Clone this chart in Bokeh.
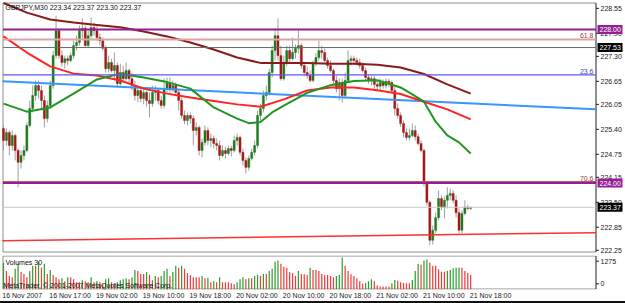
from bokeh.plotting import figure
from bokeh.models import Range1d, FixedTicker, Label, ColumnDataSource, Div
from bokeh.layouts import column
from bokeh.embed import file_html
from bokeh.resources import INLINE
from bokeh.core.properties import value

# ---------------- data ----------------
symbol = "GBPJPY,M30"
header_quote = ["223.34", "223.37", "223.30", "223.37"]

opens = [225.42, 225.11, 225.32, 224.98, 225.24, 224.85, 224.54, 224.72, 224.85, 225.50,
         225.94, 226.28, 226.54, 226.41, 226.15, 225.68, 226.02, 226.54, 227.32, 227.97,
         227.32, 227.14, 227.24, 227.19, 227.32, 227.58, 227.66, 227.97, 228.03, 227.58,
         227.84, 228.05, 227.97, 227.79, 227.71, 227.51, 226.98, 227.14, 226.93, 227.06,
         226.59, 226.88, 226.72, 226.93, 226.72, 226.54, 226.28, 226.41, 226.20, 226.36,
         226.15, 226.07, 226.36, 226.41, 226.15, 226.02, 226.46, 226.62, 226.46, 226.54,
         226.36, 226.15, 225.76, 225.63, 225.76, 225.68, 225.37, 225.45, 224.85, 225.06,
         225.37, 225.11, 225.16, 225.03, 224.98, 224.72, 224.85, 224.77, 224.90, 224.85,
         225.11, 225.19, 224.80, 224.59, 224.41, 224.64, 224.80, 224.98, 225.76, 225.94,
         226.28, 226.36, 226.88, 227.45, 227.84, 227.32, 226.72, 227.14, 227.45, 227.24,
         227.40, 227.51, 227.58, 227.06, 226.88, 226.80, 226.67, 227.11, 227.27, 227.45,
         227.40, 227.19, 227.06, 226.93, 226.67, 226.46, 226.62, 226.28, 226.67, 227.19,
         227.24, 227.19, 227.14, 227.06, 226.93, 226.75, 226.67, 226.72, 226.57, 226.52,
         226.62, 226.54, 226.65, 226.62, 226.41, 225.94, 225.76, 225.55, 225.32, 225.19,
         225.24, 225.37, 225.21, 225.03, 224.85, 223.99, 223.50, 222.51, 222.77, 223.10,
         223.60, 223.37, 223.55, 223.68, 223.73, 223.55, 223.23, 222.77, 223.21, 223.37,
         223.34]
highs = [225.50, 225.42, 225.37, 225.37, 225.29, 224.90, 224.85, 224.98, 225.58, 226.15,
         226.54, 226.67, 226.67, 226.54, 226.28, 226.15, 226.67, 227.45, 228.36, 228.03,
         227.45, 227.32, 227.32, 227.40, 227.71, 227.84, 228.10, 228.29, 228.10, 227.97,
         228.31, 228.18, 228.10, 227.90, 227.79, 227.58, 227.32, 227.24, 227.40, 227.14,
         227.11, 227.06, 227.14, 226.98, 226.88, 226.67, 226.54, 226.52, 226.46, 226.41,
         226.36, 226.54, 226.54, 226.46, 226.28, 226.72, 226.75, 226.75, 226.67, 226.62,
         226.46, 226.23, 225.89, 225.84, 225.84, 225.76, 225.58, 225.50, 225.16, 225.50,
         225.45, 225.29, 225.24, 225.16, 225.11, 224.98, 224.95, 224.98, 224.98, 225.24,
         225.29, 225.24, 224.90, 224.67, 224.72, 224.90, 225.11, 225.89, 226.07, 226.41,
         226.54, 226.98, 227.58, 228.03, 228.29, 227.58, 227.32, 227.58, 227.58, 227.79,
         227.61, 227.97, 227.64, 227.14, 227.04, 226.93, 227.19, 227.38, 227.71, 227.58,
         227.51, 227.27, 227.19, 226.98, 226.80, 226.72, 226.72, 226.88, 227.45, 227.32,
         227.32, 227.27, 227.24, 227.14, 227.01, 226.83, 226.80, 226.80, 226.67, 226.72,
         226.70, 226.72, 226.72, 226.67, 226.52, 226.07, 225.84, 225.63, 225.42, 225.42,
         225.55, 225.50, 225.29, 225.11, 224.90, 224.04, 223.55, 222.90, 223.23, 223.81,
         223.68, 223.65, 223.89, 223.86, 223.81, 223.68, 223.34, 223.29, 223.55, 223.44,
         223.37]
lows = [224.85, 224.98, 224.72, 224.85, 224.59, 223.89, 224.38, 224.59, 224.80, 225.45,
        225.84, 226.15, 226.20, 225.89, 225.45, 225.58, 225.94, 226.46, 227.24, 227.24,
        227.04, 226.98, 227.06, 227.14, 227.24, 227.45, 227.58, 227.77, 227.53, 227.53,
        227.77, 227.84, 227.71, 227.58, 227.45, 226.88, 226.88, 226.88, 226.67, 226.52,
        226.54, 226.62, 226.67, 226.62, 226.41, 226.15, 226.10, 226.10, 226.05, 225.99,
        225.71, 225.99, 226.15, 226.05, 225.94, 225.94, 226.36, 226.36, 226.36, 226.26,
        225.89, 225.68, 225.53, 225.50, 225.55, 224.98, 225.24, 224.72, 224.67, 224.98,
        224.98, 224.93, 224.90, 224.85, 224.59, 224.67, 224.64, 224.72, 224.69, 224.80,
        224.98, 224.72, 224.46, 224.25, 224.33, 224.59, 224.72, 224.90, 225.63, 225.84,
        226.15, 226.28, 226.75, 227.19, 227.19, 226.67, 226.67, 227.04, 227.14, 227.19,
        227.24, 227.38, 226.98, 226.78, 226.72, 226.62, 226.62, 227.04, 227.19, 227.24,
        227.14, 226.98, 226.88, 226.54, 226.36, 226.15, 226.10, 226.20, 226.62, 227.06,
        227.11, 227.06, 226.98, 226.88, 226.67, 226.59, 226.54, 226.46, 226.41, 226.41,
        226.46, 226.46, 226.49, 226.36, 225.76, 225.68, 225.47, 225.19, 225.11, 225.11,
        225.19, 225.11, 224.98, 224.80, 223.91, 223.42, 222.38, 222.40, 222.69, 223.03,
        223.29, 223.08, 223.34, 223.55, 223.47, 223.10, 222.69, 222.69, 223.16, 223.29,
        223.30]
closes = [225.11, 225.32, 224.98, 225.24, 224.85, 224.54, 224.72, 224.85, 225.50, 225.94,
          226.28, 226.54, 226.41, 226.15, 225.68, 226.02, 226.54, 227.32, 227.97, 227.32,
          227.14, 227.24, 227.19, 227.32, 227.58, 227.66, 227.97, 228.03, 227.58, 227.84,
          228.05, 227.97, 227.79, 227.71, 227.51, 226.98, 227.14, 226.93, 227.06, 226.59,
          226.88, 226.72, 226.93, 226.72, 226.54, 226.28, 226.41, 226.20, 226.36, 226.15,
          226.07, 226.36, 226.41, 226.15, 226.02, 226.46, 226.62, 226.46, 226.54, 226.36,
          226.15, 225.76, 225.63, 225.76, 225.68, 225.37, 225.45, 224.85, 225.06, 225.37,
          225.11, 225.16, 225.03, 224.98, 224.72, 224.85, 224.77, 224.90, 224.85, 225.11,
          225.19, 224.80, 224.59, 224.41, 224.64, 224.80, 224.98, 225.76, 225.94, 226.28,
          226.36, 226.88, 227.45, 227.84, 227.32, 226.72, 227.14, 227.45, 227.24, 227.40,
          227.51, 227.58, 227.06, 226.88, 226.80, 226.67, 227.11, 227.27, 227.45, 227.40,
          227.19, 227.06, 226.93, 226.67, 226.46, 226.62, 226.28, 226.67, 227.19, 227.24,
          227.19, 227.14, 227.06, 226.93, 226.75, 226.67, 226.72, 226.57, 226.52, 226.62,
          226.54, 226.65, 226.62, 226.41, 225.94, 225.76, 225.55, 225.32, 225.19, 225.24,
          225.37, 225.21, 225.03, 224.85, 223.99, 223.50, 222.51, 222.77, 223.10, 223.60,
          223.37, 223.55, 223.68, 223.73, 223.55, 223.23, 222.77, 223.21, 223.37, 223.34,
          223.37]
volumes = [1069, 740, 534, 493, 822, 1028, 699, 617, 493, 740,
           945, 945, 1110, 863, 1028, 617, 781, 575, 493, 411,
           452, 329, 493, 493, 411, 288, 288, 370, 329, 288,
           493, 288, 329, 288, 206, 411, 452, 288, 247, 288,
           370, 411, 452, 411, 493, 781, 740, 617, 617, 699,
           575, 370, 534, 493, 534, 740, 822, 534, 699, 945,
           863, 945, 822, 658, 575, 493, 493, 493, 534, 452,
           473, 288, 329, 288, 493, 288, 288, 288, 247, 206,
           288, 411, 493, 411, 452, 452, 534, 575, 534, 617,
           617, 740, 822, 1110, 1151, 1028, 904, 863, 699, 658,
           534, 740, 617, 604, 575, 863, 781, 781, 740, 617,
           575, 575, 534, 493, 534, 575, 1275, 945, 740, 604,
           534, 452, 329, 226, 259, 329, 411, 329, 164, 123,
           123, 123, 123, 247, 382, 349, 288, 259, 247, 247,
           382, 740, 1015, 986, 1151, 1192, 1081, 945, 945, 810,
           711, 711, 740, 781, 843, 863, 875, 863, 740, 670,
           575]

time_label_bars = [0, 16, 32, 48, 64, 80, 96, 112, 128, 144, 160]
time_labels = ["16 Nov 2007", "16 Nov 17:00", "19 Nov 02:00", "19 Nov 10:00", "19 Nov 18:00",
               "20 Nov 02:00", "20 Nov 10:00", "20 Nov 18:00", "21 Nov 02:00", "21 Nov 10:00",
               "21 Nov 18:00"]

ma_bars = [0, 8, 16, 24, 32, 40, 48, 56, 64, 72, 80, 88, 96, 104, 112, 120, 128, 136, 144, 152, 160]
ma_slow = [228.69, 228.44, 228.26, 228.18, 228.12, 228.06, 227.95, 227.82, 227.66, 227.48,
           227.27, 227.13, 227.13, 227.13, 227.11, 227.11, 227.08, 227.01, 226.84, 226.57, 226.33]
ma_mid = [227.82, 227.40, 227.04, 226.85, 226.80, 226.67, 226.46, 226.33, 226.23, 226.14,
          226.05, 225.99, 226.18, 226.41, 226.49, 226.49, 226.42, 226.32, 226.12, 225.92, 225.66]
ma_fast_bars = [0, 8, 16, 24, 32, 40, 48, 56, 64, 72, 80, 84, 88, 92, 96, 104, 112, 120, 128,
                136, 140, 144, 148, 152, 156, 160]
ma_fast = [226.07, 225.86, 225.97, 226.33, 226.70, 226.85, 226.75, 226.63, 226.46, 225.97,
           225.68, 225.56, 225.59, 225.84, 226.02, 226.35, 226.55, 226.66, 226.68, 226.49,
           226.31, 226.12, 225.60, 225.24, 225.06, 224.77]

trend_bars = [-0.34, 202.91]
trend_blue = [226.65, 225.92]
trend_red = [222.50, 222.71]

level_purple = [228.00, 224.00]
level_fib618 = 227.74
level_fib236 = 226.82
level_fib706 = 224.04
level_gray = 227.53
bid_price = 223.37

price_ticks = [228.55, 227.90, 227.30, 226.65, 226.05, 225.40, 224.75, 224.15, 223.50, 222.85, 222.25]
price_tick_labels = ["228.55", "227.90", "227.30", "226.65", "226.05", "225.40", "224.75",
                     "224.15", "223.50", "222.85", "222.25"]
volume_tick_labels = ["1275", "0"]

# ---------------- geometry helpers (styling only) ----------------
BAR_PX = 2.92          # pixels per bar
X0_PX = 3.0            # pixel column of bar 0
PRICE_PX = 38.4        # pixels per yen
P_AT_Y0 = 228.755      # price at page row 0


def bx(px):
    return (px - X0_PX) / BAR_PX


def py(row):
    return P_AT_Y0 - row / PRICE_PX


FONT = "Liberation Sans"
FS = "7px"
AX = "#202020"
BORDER = "#8c8c8c"
n = len(closes)
idx = list(range(n))
bull = "#1d7a1d"
bear = "#a31818"

xr = Range1d(bx(1), bx(625))
x_left, x_axis = bx(2.5), bx(595.5)

# ---------------- main price panel ----------------
p = figure(frame_width=624, frame_height=252, x_range=xr, y_range=Range1d(py(253), py(1)),
           output_backend="svg", toolbar_location=None, x_axis_location=None,
           y_axis_location=None, min_border_left=1, min_border_right=0,
           min_border_top=1, min_border_bottom=1)
p.grid.visible = False
p.outline_line_color = None
p.background_fill_color = "white"
p.border_fill_color = "white"

# frame border + axis line
p.segment(x0=[x_left, x_left, x_left, x_axis], y0=[py(2.5), py(251.5), py(2.5), py(2.5)],
          x1=[x_axis, x_axis, x_left, x_axis], y1=[py(2.5), py(251.5), py(251.5), py(251.5)],
          line_color=[BORDER, BORDER, BORDER, AX], line_width=1)

# candles
src = ColumnDataSource(dict(
    i=idx, o=opens, h=highs, l=lows, c=closes,
    top=[max(a, b) for a, b in zip(opens, closes)],
    bot=[min(a, b) for a, b in zip(opens, closes)],
    col=[bull if c >= o else bear for o, c in zip(opens, closes)],
))
p.segment(x0="i", y0="l", x1="i", y1="h", source=src, line_color="#9e9e9e", line_width=1)
p.vbar(x="i", width=0.72, top="top", bottom="bot", source=src,
       fill_color="col", line_color="col", line_width=0.4)

# trendlines & MAs
p.line(trend_bars, trend_blue, line_color="#3797ff", line_width=2)
p.line(trend_bars, trend_red, line_color="#ff3030", line_width=1.5)
p.line(ma_bars, ma_slow, line_color="#8b1a1a", line_width=2)
p.line(ma_bars, ma_mid, line_color="#ff2424", line_width=2)
p.line(ma_fast_bars, ma_fast, line_color="#1f961f", line_width=2)

# horizontal levels (stop at the price axis)
lv_y = [bid_price, level_gray, level_fib618, level_fib236, level_fib706] + level_purple
lv_c = ["#c8c8c8", "#6a6a6a", "#dca4a4", "#5a5af0", "#b06060"] + ["#931f93"] * len(level_purple)
lv_w = [1, 1, 2, 1.3, 1.3] + [2] * len(level_purple)
p.segment(x0=[x_left] * len(lv_y), x1=[x_axis] * len(lv_y), y0=lv_y, y1=lv_y,
          line_color=lv_c, line_width=lv_w)

for txt, lv, colr in [("61.8", level_fib618, "#a03c3c"), ("23.6", level_fib236, "#3c3ccc"),
                      ("70.6", level_fib706, "#a03c3c")]:
    p.add_layout(Label(x=592, y=lv, x_units="screen", y_units="data", text=txt,
                       text_align="right", text_baseline="bottom", y_offset=1,
                       text_font=FONT, text_font_size=FS, text_color=colr))

# price scale: ticks and labels
p.segment(x0=[x_axis] * len(price_ticks), x1=[bx(598.5)] * len(price_ticks),
          y0=price_ticks, y1=price_ticks, line_color=AX, line_width=1)
p.text(x=[bx(600)] * len(price_ticks), y=price_ticks, text=price_tick_labels,
       text_font=value(FONT), text_font_size=value(FS), text_color=AX,
       text_align="left", text_baseline="middle")

# price boxes on the scale
box_y = [level_purple[0], level_gray, level_purple[1], bid_price]
box_c = ["#931f93", "#000000", "#931f93", "#000000"]
half_h = 4.5 / PRICE_PX
p.quad(left=[bx(597)] * 4, right=[bx(622)] * 4, top=[v + half_h for v in box_y],
       bottom=[v - half_h for v in box_y], fill_color=box_c, line_color=None)
p.text(x=[bx(599)] * 4, y=box_y, text=[f"{v:.2f}" for v in box_y],
       text_font=value(FONT), text_font_size=value(FS), text_color="white",
       text_align="left", text_baseline="middle")

p.add_layout(Label(x=4, y=246, x_units="screen", y_units="screen",
                   text=symbol + "  " + " ".join(header_quote),
                   text_align="left", text_baseline="middle", text_font=FONT,
                   text_font_size=FS, text_color="#101010"))

# ---------------- volume panel ----------------
VOL_FRAME_TOP, VOL_FRAME_BOTTOM = 255, 289
vtop = 1355


def vy(row):
    return (VOL_FRAME_BOTTOM - row) * vtop / (VOL_FRAME_BOTTOM - VOL_FRAME_TOP)


pv = figure(frame_width=624, frame_height=VOL_FRAME_BOTTOM - VOL_FRAME_TOP, x_range=xr,
            y_range=Range1d(0, vtop), output_backend="svg", toolbar_location=None,
            y_axis_location=None, x_axis_location="below", min_border_left=1,
            min_border_right=0, min_border_top=1, min_border_bottom=11)
pv.grid.visible = False
pv.outline_line_color = None

pv.segment(x0=[x_left, x_left, x_left, x_axis], y0=[vy(255.5), vy(288.5), vy(255.5), vy(255.5)],
           x1=[x_axis, x_axis, x_left, x_axis], y1=[vy(255.5), vy(288.5), vy(288.5), vy(288.5)],
           line_color=[BORDER, BORDER, BORDER, AX], line_width=1)

vcol = ["#2f9e2f"] + ["#2f9e2f" if volumes[k] > volumes[k - 1] else "#f03c3c" for k in range(1, n)]
vsrc = ColumnDataSource(dict(i=idx, v=volumes, col=vcol))
pv.vbar(x="i", top="v", width=0.42, source=vsrc, fill_color="col", line_color=None)

vol_tick_pos = [vy(260.7), vy(283.3)]
pv.segment(x0=[x_axis] * 2, x1=[bx(598.5)] * 2, y0=vol_tick_pos, y1=vol_tick_pos,
           line_color=AX, line_width=1)
pv.text(x=[bx(600)] * 2, y=vol_tick_pos, text=volume_tick_labels,
        text_font=value(FONT), text_font_size=value(FS), text_color=AX,
        text_align="left", text_baseline="middle")

xa = pv.xaxis[0]
xt = [b + (6.4 if k == 0 else 6.8) for k, b in enumerate(time_label_bars)]
xa.ticker = FixedTicker(ticks=xt)
xa.major_label_overrides = {t: s for t, s in zip(xt, time_labels)}
xa.major_tick_out = 0
xa.major_tick_in = 0
xa.minor_tick_line_color = None
xa.major_label_standoff = 2
xa.axis_line_color = None
xa.major_label_text_font = FONT
xa.major_label_text_font_size = FS
xa.major_label_text_color = AX

pv.add_layout(Label(x=4, y=27.5, x_units="screen", y_units="screen", text="Volumes 30",
                    text_align="left", text_baseline="middle", text_font=FONT,
                    text_font_size=FS, text_color="#101010"))
pv.add_layout(Label(x=2, y=4.5, x_units="screen", y_units="screen",
                    text="MetaTrader, \u00a9 2001-2007 MetaQuotes Software Corp.",
                    text_align="left", text_baseline="middle", text_font=FONT,
                    text_font_size=FS, text_color="#101010"))

bar = Div(width=625, height=3, styles={"background-color": "#101010"}, margin=0)

layout = column(p, pv, bar, spacing=0)
open("out.html", "w").write(file_html(layout, INLINE))
